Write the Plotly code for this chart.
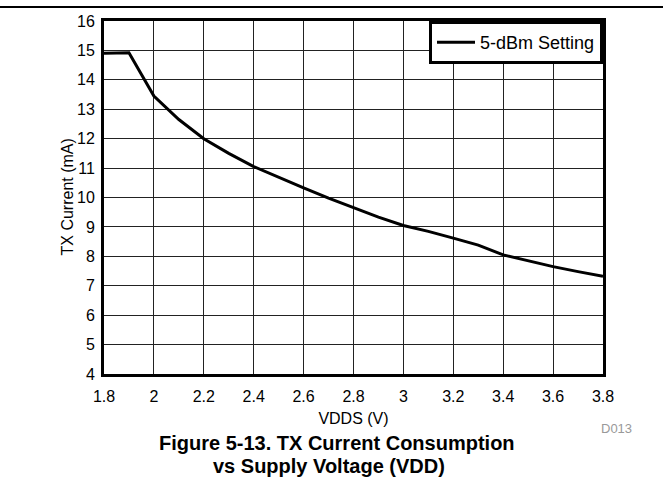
import plotly.graph_objects as go

vdds = [1.8, 1.9, 2.0, 2.1, 2.2, 2.3, 2.4, 2.5, 2.6, 2.7, 2.8, 2.9, 3.0, 3.1, 3.2, 3.3, 3.4, 3.5, 3.6, 3.7, 3.8]
tx_current = [14.9, 14.92, 13.45, 12.65, 12.0, 11.5, 11.05, 10.68, 10.33, 9.98, 9.65, 9.33, 9.05, 8.85, 8.62, 8.38, 8.05, 7.85, 7.65, 7.48, 7.32]
x_ticks = [1.8, 2.0, 2.2, 2.4, 2.6, 2.8, 3.0, 3.2, 3.4, 3.6, 3.8]
x_tick_labels = ["1.8", "2", "2.2", "2.4", "2.6", "2.8", "3", "3.2", "3.4", "3.6", "3.8"]
y_ticks = list(range(4, 17))

W, H = 663, 489
L, R, T, B = 104, 60, 21, 115
pw, ph = W - L - R, H - T - B

font = "Liberation Sans, Arial, sans-serif"


def px_x(x):
    return (x - L) / pw


def px_y(y):
    return (T + ph - y) / ph


fig = go.Figure()
fig.add_trace(go.Scatter(x=vdds, y=tx_current, mode="lines", name="5-dBm Setting",
                         line=dict(color="black", width=3)))

fig.update_layout(
    width=W, height=H,
    margin=dict(l=L, r=R, t=T, b=B, autoexpand=False),
    paper_bgcolor="white", plot_bgcolor="white",
    font=dict(family=font, size=16, color="black"),
    showlegend=True,
    legend=dict(x=1, y=1, xanchor="right", yanchor="top",
                bgcolor="white", bordercolor="black", borderwidth=3,
                font=dict(size=18), itemwidth=38),
    xaxis=dict(range=[1.8, 3.8], tickvals=x_ticks, ticktext=x_tick_labels,
               showgrid=True, gridcolor="#222", gridwidth=1,
               showline=True, linecolor="black", linewidth=3, mirror=True,
               ticks="", zeroline=False, ticklabelstandoff=6,
               title=dict(text="VDDS (V)", standoff=9, font=dict(size=16))),
    yaxis=dict(range=[4, 16], tickvals=y_ticks,
               showgrid=True, gridcolor="#222", gridwidth=1,
               showline=True, linecolor="black", linewidth=3, mirror=True,
               ticks="", zeroline=False, ticklabelstandoff=3),
)

# y-axis title
fig.add_annotation(xref="paper", yref="paper", x=px_x(67), y=0.5,
                   text="TX Current (mA)", textangle=-90, showarrow=False,
                   xanchor="center", yanchor="middle", font=dict(size=16))

# top rule line
fig.add_shape(type="line", xref="paper", yref="paper",
              x0=px_x(0), x1=px_x(W), y0=px_y(7), y1=px_y(7),
              line=dict(color="black", width=2))

fig.add_annotation(xref="paper", yref="paper", x=px_x(599), y=px_y(428),
                   text="D013", showarrow=False, xanchor="left", yanchor="middle",
                   font=dict(size=13, color="#999"))
fig.add_annotation(xref="paper", yref="paper", x=px_x(337), y=px_y(443),
                   text="<b>Figure 5-13. TX Current Consumption</b>", showarrow=False,
                   xanchor="center", yanchor="middle", font=dict(size=20))
fig.add_annotation(xref="paper", yref="paper", x=px_x(329), y=px_y(466),
                   text="<b>vs Supply Voltage (VDD)</b>", showarrow=False,
                   xanchor="center", yanchor="middle", font=dict(size=20))

fig.write_html("out.html", config={"displayModeBar": False},
               post_script="document.body.style.margin='0px';")
